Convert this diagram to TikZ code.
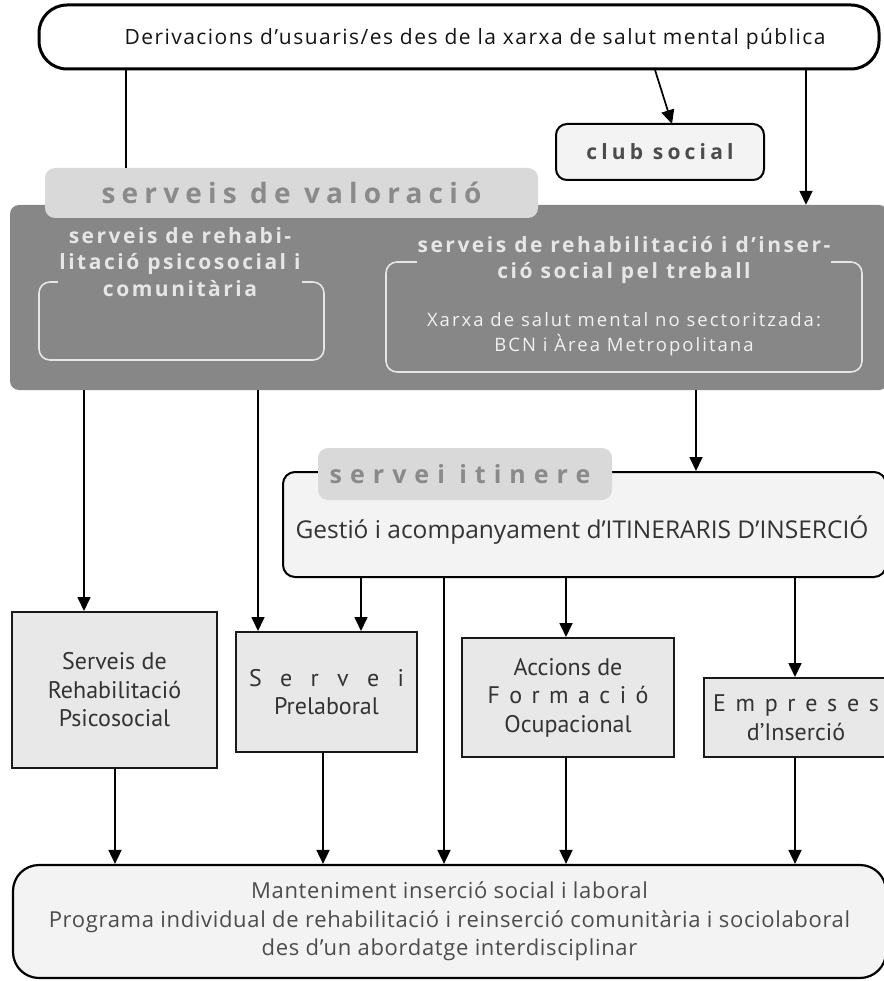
\documentclass[tikz,border=0pt]{standalone}
\usepackage{fontspec}
\setmainfont{Open Sans}
\newfontfamily\ptsans{PT Sans}
\usetikzlibrary{arrows.meta}
\definecolor{darkbox}{HTML}{878787}
\definecolor{tabfill}{HTML}{D9D9D9}
\definecolor{tabtext}{HTML}{8A8A8A}
\definecolor{lightfill}{HTML}{F3F3F3}
\definecolor{boxfill}{HTML}{E8E8E8}
\definecolor{innertxt}{HTML}{E6E6E6}
\definecolor{txt}{HTML}{333333}
\newcommand{\spreadtxt}[2]{\makebox[#1]{#2}}
\begin{document}
\begin{tikzpicture}[x=1pt,y=-1pt,
  arr/.style={line width=1.7pt,draw=black,-{Triangle[length=14pt,width=13pt]}},
  ln/.style={line width=1.7pt,draw=black},
  pbox/.style={draw=black!90,line width=2pt,fill=boxfill,text=txt,align=center,inner sep=0pt,
    font=\ptsans\fontsize{24}{28.5}\selectfont},
  tabbox/.style={fill=tabfill,rounded corners=10pt,inner sep=0pt},
  outl/.style={draw=innertxt,line width=1.6pt,rounded corners=11pt},
  head/.style={fill=darkbox,text=innertxt,align=center,inner sep=1pt,
    font=\fontsize{21}{26.5}\bfseries\addfontfeature{LetterSpace=12}\selectfont}
]
\useasboundingbox (0,0) rectangle (883,981);

% top box
\node[draw=black,line width=3pt,rounded corners=28pt,fill=white,minimum width=840pt,minimum height=64pt,
  inner sep=0pt] (top) at (459,37) {};
\node[inner sep=0pt,font=\fontsize{21}{26}\addfontfeature{LetterSpace=7}\selectfont,text=black!92] (toptxt) at (475,39) {Derivacions d’usuaris/es des de la xarxa de salut mental pública};

% club social
\node[draw=black,line width=2pt,rounded corners=11pt,fill=lightfill,minimum width=208pt,minimum height=56pt,
  inner sep=0pt,text=black!70,font=\fontsize{21}{24}\bfseries\addfontfeature{LetterSpace=20}\selectfont] (club) at (660,152) {club social};

% dark box
\node[fill=darkbox,rounded corners=9pt,minimum width=878pt,minimum height=185pt,inner sep=0pt] (dark) at (449,297.5) {};
\node[tabbox,minimum width=493pt,minimum height=50pt,text=tabtext,
  font=\fontsize{28}{30}\bfseries\addfontfeature{LetterSpace=22}\selectfont] (val) at (291.5,193) {serveis de valoració};

% inner outlines
\draw[outl] (39,282) rectangle (324,360);
\draw[outl] (386,262) rectangle (862,372);
\node[head] (left) at (180,262) {serveis de rehabi-\\litació psicosocial i\\comunitària};
\node[head] (right) at (624,260) {serveis de rehabilitació i d’inser-\\ció social pel treball};
\node[text=white!95!black,align=center,inner sep=0pt,
  font=\fontsize{18.5}{25}\addfontfeature{LetterSpace=11}\selectfont] (xarxa) at (624,334) {Xarxa de salut mental no sectoritzada:\\BCN i Àrea Metropolitana};

% itinere box
\node[draw=black,line width=2pt,rounded corners=12pt,fill=lightfill,minimum width=603pt,minimum height=105pt,inner sep=0pt] (itin) at (584.5,524.5) {};
\node[tabbox,minimum width=294pt,minimum height=52pt] (itab) at (465,474) {};
\node[text=tabtext,inner sep=0pt,font=\fontsize{25}{28}\bfseries\addfontfeature{LetterSpace=32}\selectfont] (itabt) at (460,474) {servei itinere};
\node[text=txt,inner sep=0pt,font=\fontsize{24.5}{26}\selectfont] (gest) at (582,530) {Gestió i acompanyament d’ITINERARIS D’INSERCIÓ};

% boxes
\node[pbox,minimum width=205pt,minimum height=156pt] (srp) at (114.5,690) {Serveis de\\Rehabilitació\\Psicosocial};
\node[pbox,minimum width=181pt,minimum height=120pt] (spl) at (326.5,692) {\spreadtxt{155pt}{S\hfill e\hfill r\hfill v\hfill e\hfill i}\\Prelaboral};
\node[pbox,minimum width=212pt,minimum height=119pt] (afo) at (568,697.5) {Accions de\\\spreadtxt{161pt}{F\hfill o\hfill r\hfill m\hfill a\hfill c\hfill i\hfill ó}\\Ocupacional};
\node[pbox,minimum width=184pt,minimum height=79pt] (emp) at (796,717.5) {\spreadtxt{166pt}{E\hfill m\hfill p\hfill r\hfill e\hfill s\hfill e\hfill s}\\d’Inserció};

% bottom box
\node[draw=black,line width=2.2pt,rounded corners=26pt,fill=lightfill,minimum width=873pt,minimum height=113pt,inner sep=0pt,
  align=center,text=black!70,font=\fontsize{22}{28.5}\addfontfeature{LetterSpace=3}\selectfont] (bot) at (449.5,921.5)
  {Manteniment inserció social i laboral\\Programa individual de rehabilitació i reinserció comunitària i sociolaboral\\des d’un abordatge interdisciplinar};

% connectors
\coordinate (xa) at (126,0);
\coordinate (xb) at (806,0);
\coordinate (xc) at (84,0);
\coordinate (xd) at (258,0);
\coordinate (xe) at (696,0);
\coordinate (xf) at (361,0);
\coordinate (xg) at (444,0);
\coordinate (xh) at (566,0);
\coordinate (xi) at (795,0);
\coordinate (xj) at (115,0);
\coordinate (xk) at (323,0);
\coordinate (cs1) at (655,70);
\coordinate (cs2) at (672,124);

\draw[ln] (top.south -| xa) -- (val.north -| xa);
\draw[arr] (cs1) -- (cs2);
\draw[arr] (top.south -| xb) -- (dark.north -| xb);
\draw[arr] (dark.south -| xc) -- (srp.north -| xc);
\draw[arr] (dark.south -| xd) -- (spl.north -| xd);
\draw[arr] (dark.south -| xe) -- (itin.north -| xe);
\draw[arr] (itin.south -| xf) -- (spl.north -| xf);
\draw[arr] (itin.south -| xg) -- (bot.north -| xg);
\draw[arr] (itin.south -| xh) -- (afo.north -| xh);
\draw[arr] (itin.south -| xi) -- (emp.north -| xi);
\draw[arr] (srp.south -| xj) -- (bot.north -| xj);
\draw[arr] (spl.south -| xk) -- (bot.north -| xk);
\draw[arr] (afo.south -| xh) -- (bot.north -| xh);
\draw[arr] (emp.south -| xi) -- (bot.north -| xi);
\end{tikzpicture}
\end{document}
